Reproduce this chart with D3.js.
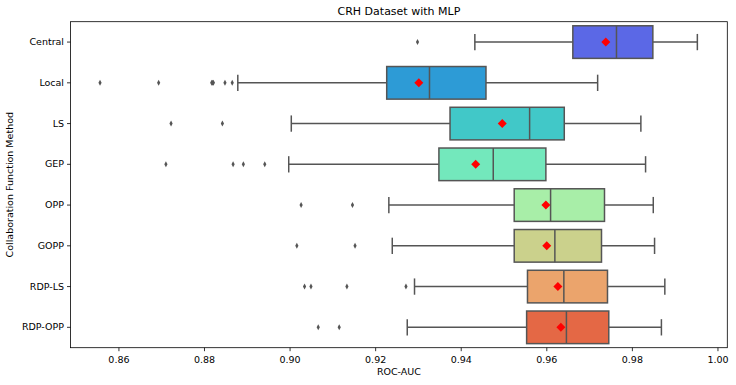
<!DOCTYPE html>
<html><head><meta charset="utf-8">
<script src="https://cdn.jsdelivr.net/npm/d3@7"></script>
<style>body{margin:0;background:#fff}svg{display:block;font-family:"DejaVu Sans",sans-serif}</style>
</head><body><svg id="c" width="736" height="385"></svg>
<script>
const categories = ["Central","Local","LS","GEP","OPP","GOPP","RDP-LS","RDP-OPP"];
const whiskerLow  = [0.9433,0.8879,0.9004,0.8998,0.9232,0.9240,0.9292,0.9275];
const q1          = [0.9662,0.9227,0.9375,0.9349,0.9525,0.9525,0.9556,0.9554];
const medians     = [0.9764,0.9327,0.9561,0.9476,0.9610,0.9620,0.9641,0.9647];
const q3          = [0.9849,0.9459,0.9642,0.9599,0.9736,0.9729,0.9743,0.9746];
const whiskerHigh = [0.9953,0.9720,0.9821,0.9832,0.9850,0.9853,0.9877,0.9869];
const means       = [0.9739,0.9302,0.9497,0.9435,0.9599,0.9601,0.9627,0.9634];
const outliers = [
  [0.9299],
  [0.8557,0.8694,0.8818,0.8820,0.8822,0.8849,0.8866],
  [0.8723,0.8843],
  [0.8711,0.8868,0.8892,0.8942],
  [0.9027,0.9147],
  [0.9017,0.9153],
  [0.9035,0.9050,0.9134,0.9272],
  [0.9067,0.9116]
];
const colors = ["#5b68e6","#2d9bd6","#41c8c8","#73e8bc","#a8eea8","#cbd18c","#eba46c","#e46845"];
const xTicks = [0.86,0.88,0.90,0.92,0.94,0.96,0.98,1.00];

const svg = d3.select("#c");
const L=70.5, R=727.3, T=21.7, B=347.7;
const x = d3.scaleLinear().domain([0.8488,1.0023]).range([L,R]);
const y = d3.scaleBand().domain(categories).range([T,B]).paddingInner(0.2).paddingOuter(0.1);
const bw = y.bandwidth();
const line = "#555555";

const g = svg.append("g");
categories.forEach((c,i)=>{
  const cy = y(c)+bw/2;
  g.append("line").attr("x1",x(whiskerLow[i])).attr("x2",x(q1[i])).attr("y1",cy).attr("y2",cy).attr("stroke",line).attr("stroke-width",1.5);
  g.append("line").attr("x1",x(q3[i])).attr("x2",x(whiskerHigh[i])).attr("y1",cy).attr("y2",cy).attr("stroke",line).attr("stroke-width",1.5);
  [whiskerLow[i],whiskerHigh[i]].forEach(v=>{
    g.append("line").attr("x1",x(v)).attr("x2",x(v)).attr("y1",cy-bw/4).attr("y2",cy+bw/4).attr("stroke",line).attr("stroke-width",1.5);
  });
  g.append("rect").attr("x",x(q1[i])).attr("y",y(c)).attr("width",x(q3[i])-x(q1[i])).attr("height",bw)
    .attr("fill",colors[i]).attr("stroke",line).attr("stroke-width",1.5);
  g.append("line").attr("x1",x(medians[i])).attr("x2",x(medians[i])).attr("y1",y(c)).attr("y2",y(c)+bw).attr("stroke",line).attr("stroke-width",1.5);
  outliers[i].forEach(v=>{
    g.append("path").attr("d",`M0,-3L1.6,0L0,3L-1.6,0Z`).attr("transform",`translate(${x(v)},${cy})`).attr("fill",line);
  });
  g.append("path").attr("d",`M0,-4.5L4.5,0L0,4.5L-4.5,0Z`).attr("transform",`translate(${x(means[i])},${cy})`).attr("fill","#ff0000");
});

// axes
const xa = svg.append("g").attr("transform",`translate(0,${B})`).call(d3.axisBottom(x).tickValues(xTicks).tickFormat(d3.format(".2f")).tickSize(3.5).tickSizeOuter(0));
const ya = svg.append("g").attr("transform",`translate(${L},0)`).call(d3.axisLeft(y).tickSize(3.5).tickSizeOuter(0));
[xa,ya].forEach(a=>{a.select(".domain").remove();a.selectAll("text").attr("font-family","DejaVu Sans").attr("font-size",9.5).attr("fill","#000");a.selectAll("line").attr("stroke","#000").attr("stroke-width",0.8);});
xa.selectAll("text").attr("dy","0.95em");
svg.append("rect").attr("x",L).attr("y",T).attr("width",R-L).attr("height",B-T).attr("fill","none").attr("stroke","#000").attr("stroke-width",0.8);

svg.append("text").attr("x",(L+R)/2).attr("y",15).attr("text-anchor","middle").attr("font-size",11).text("CRH Dataset with MLP");
svg.append("text").attr("x",(L+R)/2).attr("y",375).attr("text-anchor","middle").attr("font-size",9.5).text("ROC-AUC");
svg.append("text").attr("transform",`translate(13,${(T+B)/2}) rotate(-90)`).attr("text-anchor","middle").attr("font-size",9.5).text("Collaboration Function Method");
</script></body></html>
